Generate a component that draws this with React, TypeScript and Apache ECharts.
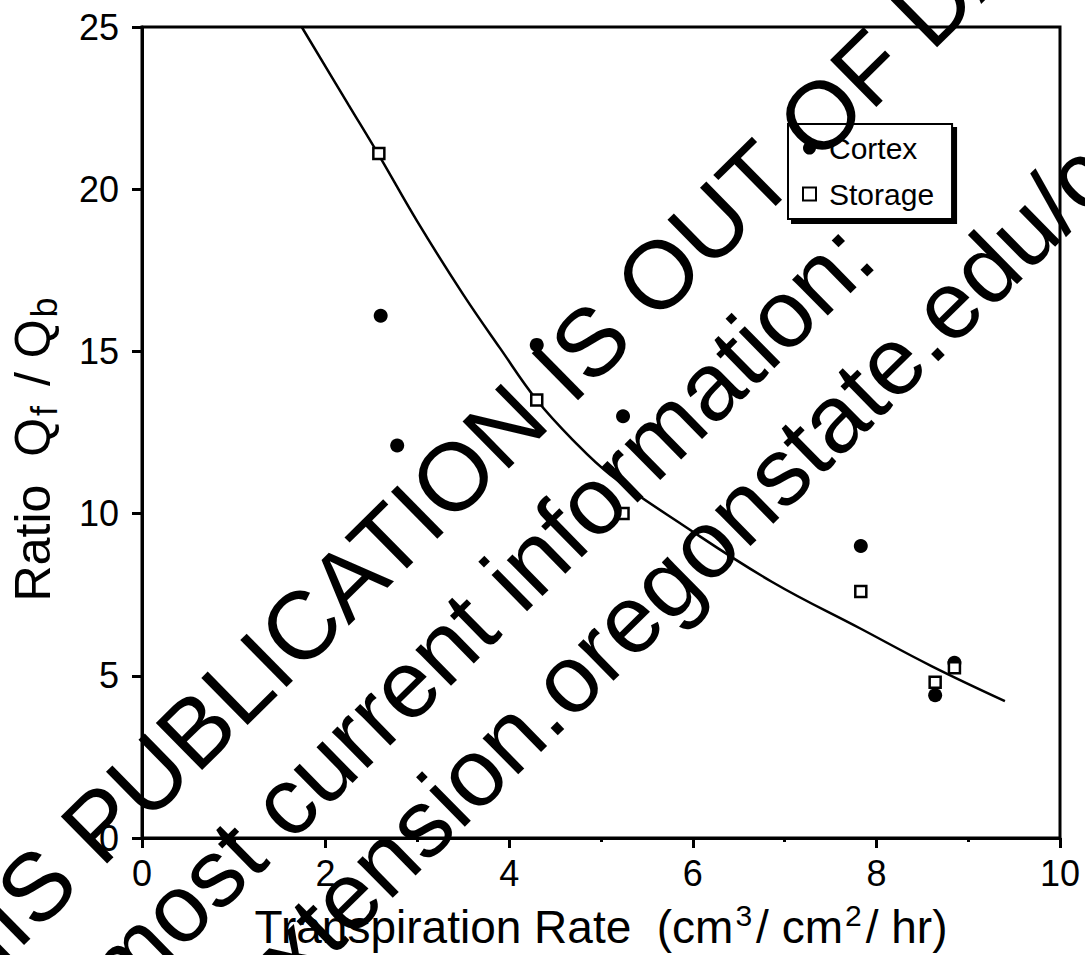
import React, { useEffect, useRef } from "react";
import * as echarts from "echarts";

const xTicks = [0, 2, 4, 6, 8, 10];
const yTicks = [0, 5, 10, 15, 20, 25];

const cortexX = [2.6, 2.78, 4.3, 5.24, 7.83, 8.64, 8.85];
const cortexY = [16.1, 12.1, 15.2, 13.0, 9.0, 4.4, 5.4];

const storageX = [2.58, 4.3, 5.24, 7.83, 8.64, 8.85];
const storageY = [21.1, 13.5, 10.0, 7.6, 4.8, 5.25];

const fitX = [1.74, 2.25, 2.58, 3.0, 3.5, 3.9, 4.3, 4.7, 5.1, 5.89, 6.86, 7.83, 8.6, 9.4];
const fitY = [25.0, 22.6, 21.05, 19.0, 16.75, 15.1, 13.5, 12.25, 11.2, 9.65, 7.9, 6.45, 5.3, 4.22];

const watermarkLines = [
  "THIS PUBLICATION IS OUT OF DATE.",
  "For most current information:",
  "http://extension.oregonstate.edu/catalog",
];

const FONT = "'Liberation Sans', Arial, Helvetica, sans-serif";

export default function App() {
  const ref = useRef<HTMLDivElement>(null);

  useEffect(() => {
    if (!ref.current) return;
    const chart = echarts.init(ref.current, null, { renderer: "svg" });
    const pairs = (xs: number[], ys: number[]) => xs.map((x, i) => [x, ys[i]]);

    // watermark placement (rotated text lines, left aligned)
    const ang = (44.5 * Math.PI) / 180;
    const wmStarts = [
      [-97, 1017],
      [-22, 1104],
      [64, 1174],
    ];

    const option: any = {
      animation: false,
      backgroundColor: "#fff",
      textStyle: { fontFamily: FONT },
      grid: {
        left: 135,
        right: 25,
        top: 27,
        bottom: 117,
        show: true,
        borderColor: "#000",
        borderWidth: 3,
        backgroundColor: "transparent",
      },
      xAxis: {
        type: "value",
        min: xTicks[0],
        max: xTicks[xTicks.length - 1],
        interval: 2,
        axisLine: { show: true, lineStyle: { color: "#000", width: 3 } },
        axisTick: { show: true, inside: false, length: 10, lineStyle: { color: "#000", width: 3 } },
        minorTick: { show: true, splitNumber: 2, length: 4, lineStyle: { color: "#000", width: 3 } },
        splitLine: { show: false },
        axisLabel: { color: "#000", fontSize: 36, fontFamily: FONT, margin: 17 },
        name: "{m|Transpiration Rate  (cm}{s|3}{m|/ cm}{s|2}{m|/ hr)}",
        nameLocation: "middle",
        nameGap: 62,
        nameTextStyle: {
          rich: {
            m: { fontSize: 46, fontFamily: FONT, color: "#000", lineHeight: 50, verticalAlign: "bottom" },
            s: { fontSize: 30, fontFamily: FONT, color: "#000", lineHeight: 50, verticalAlign: "top", padding: [0, 4, 0, 2] },
          },
        },
      },
      yAxis: {
        type: "value",
        min: yTicks[0],
        max: yTicks[yTicks.length - 1],
        interval: 5,
        axisLine: { show: true, lineStyle: { color: "#000", width: 3 } },
        axisTick: { show: true, inside: false, length: 10, lineStyle: { color: "#000", width: 3 } },
        splitLine: { show: false },
        axisLabel: { color: "#000", fontSize: 36, fontFamily: FONT, margin: 23 },
        name: "{m|Ratio  Q}{s|f}{m| / Q}{s|b}{m|  }",
        nameLocation: "middle",
        nameGap: 80,
        nameTextStyle: {
          rich: {
            m: { fontSize: 50, fontFamily: FONT, color: "#000", lineHeight: 54, verticalAlign: "top" },
            s: { fontSize: 36, fontFamily: FONT, color: "#000", lineHeight: 54, verticalAlign: "bottom", padding: [0, 6, 0, 2] },
          },
        },
      },
      legend: {
        orient: "vertical",
        left: 788,
        top: 124,
        padding: [9, 18, 10, 14],
        itemGap: 16,
        itemWidth: 13,
        itemHeight: 13,
        backgroundColor: "#fff",
        borderColor: "#000",
        borderWidth: 2,
        shadowColor: "#000",
        shadowBlur: 0,
        shadowOffsetX: 4,
        shadowOffsetY: 4,
        textStyle: { color: "#000", fontSize: 30, fontFamily: FONT, padding: [0, 0, 0, 8] },
        data: ["Cortex", "Storage"],
      },
      series: [
        {
          name: "Fit",
          type: "line",
          data: pairs(fitX, fitY),
          smooth: 0.4,
          showSymbol: false,
          lineStyle: { color: "#000", width: 2.5 },
          z: 2,
        },
        {
          name: "Cortex",
          type: "scatter",
          data: pairs(cortexX, cortexY),
          symbol: "circle",
          symbolSize: 14,
          itemStyle: { color: "#000", opacity: 1 },
          z: 3,
        },
        {
          name: "Storage",
          type: "scatter",
          data: pairs(storageX, storageY),
          symbol: "rect",
          symbolSize: 11,
          itemStyle: { color: "#fff", borderColor: "#000", borderWidth: 2.5, opacity: 1 },
          z: 4,
        },
      ],
      graphic: watermarkLines.map((t, i) => ({
        type: "text",
        x: wmStarts[i][0],
        y: wmStarts[i][1],
        rotation: ang,
        z: 100,
        style: {
          text: t,
          fontSize: 96,
          fontFamily: FONT,
          fill: "#000",
          align: "left",
          verticalAlign: "middle",
        },
      })),
    };
    chart.setOption(option);
    return () => chart.dispose();
  }, []);

  return (
    <div
      ref={ref}
      style={{ position: "absolute", left: 0, top: 0, width: 1085, height: 955, background: "#fff" }}
    />
  );
}
